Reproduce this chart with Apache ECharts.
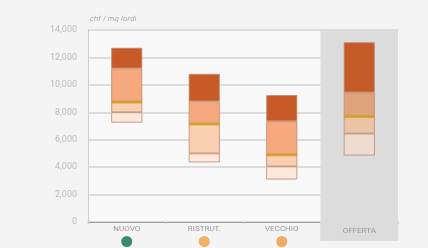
<!DOCTYPE html>
<html>
<head>
<meta charset="utf-8">
<script src="https://cdn.jsdelivr.net/npm/echarts@6/dist/echarts.min.js"></script>
<style>
  html, body { margin: 0; padding: 0; background: #f4f4f4; }
  #chart { width: 428px; height: 248px; }
</style>
</head>
<body>
<div id="chart"></div>
<script>
// categorie e valori (chf / mq lordi)
const categories = ['NUOVO', 'RISTRUT.', 'VECCHIO', 'OFFERTA']
const minVals = [7250, 4350, 3100, 4850]
const q1Vals = [8000, 5000, 4050, 6450]
const medianVals = [8750, 7150, 4900, 7700]
const q3Vals = [11200, 8800, 7350, 9450]
const maxVals = [12700, 10800, 9250, 13100]
const dotColors = ['#3d8a6f', '#efb163', '#efaa68', null]

const chart = echarts.init(document.getElementById('chart'))

// colori dei segmenti, l'ultima barra (OFFERTA) è su fondo grigio
const segColors = [
    ['#fde8db', '#fbcfb2', '#f6a97e', '#c85a28'],
    ['#fde8db', '#fbcfb2', '#f6a97e', '#c85a28'],
    ['#fde8db', '#fbcfb2', '#f6a97e', '#c85a28'],
    ['#efdcd0', '#ebc3a7', '#dfa27c', '#c45a28']
]
const border = '#b98a70'

const seg = (lo, hi, k) => ({
    type: 'bar',
    stack: 'range',
    barWidth: 31,
    silent: true,
    itemStyle: { borderColor: border, borderWidth: 0.8 },
    data: hi.map((v, i) => ({
        value: v - lo[i],
        itemStyle: { color: segColors[i][k] }
    }))
})

const option = {
    animation: false,
    backgroundColor: '#f4f4f4',
    grid: { left: 88, right: 30, top: 30, bottom: 26, show: true, backgroundColor: '#f8f8f8', borderWidth: 0 },
    graphic: [{
        type: 'text',
        left: 90, top: 16,
        style: { text: 'chf / mq lordi', fill: '#a5a5a5', fontSize: 7, fontStyle: 'italic', fontFamily: 'DejaVu Sans' }
    }],
    xAxis: {
        type: 'category',
        data: categories,
        axisLine: { lineStyle: { color: '#9a9a9a', width: 1 } },
        axisTick: { show: true, length: 2, lineStyle: { color: '#ccc' } },
        axisLabel: {
            margin: 0,
            interval: 0,
            formatter: (name, i) => {
                if (i === 3) return '{band|' + name + '}'
                return '{n|' + name + '}\n{d' + i + '|}'
            },
            rich: {
                n: { color: '#999', fontSize: 8, fontFamily: 'Roboto', lineHeight: 14, align: 'center' },
                band: {
                    color: '#999', fontSize: 8, fontFamily: 'Roboto', backgroundColor: '#dcdcdc',
                    width: 78, align: 'center', height: 20, lineHeight: 18
                },
                d0: { backgroundColor: dotColors[0], width: 11, height: 11, borderRadius: 6 },
                d1: { backgroundColor: dotColors[1], width: 11, height: 11, borderRadius: 6 },
                d2: { backgroundColor: dotColors[2], width: 11, height: 11, borderRadius: 6 }
            }
        },
        splitArea: {
            show: true,
            areaStyle: { color: ['rgba(0,0,0,0)', 'rgba(0,0,0,0)', 'rgba(0,0,0,0)', '#dcdcdc'] }
        }
    },
    yAxis: {
        type: 'value',
        min: 0,
        max: 14000,
        interval: 2000,
        axisLine: { show: true, lineStyle: { color: '#ccc' } },
        axisTick: { show: false },
        axisLabel: {
            color: '#bbb', fontSize: 9, fontFamily: 'Roboto', margin: 11,
            formatter: v => v.toLocaleString('en-US')
        },
        splitLine: { lineStyle: { color: '#d4d4d4', width: 1.5 } }
    },
    series: [
        // base invisibile fino al minimo
        {
            type: 'bar', stack: 'range', barWidth: 31, silent: true,
            itemStyle: { color: 'transparent' },
            data: minVals
        },
        seg(minVals, q1Vals, 0),
        seg(q1Vals, medianVals, 1),
        seg(medianVals, q3Vals, 2),
        seg(q3Vals, maxVals, 3),
        // linea mediana gialla
        {
            type: 'scatter',
            symbol: 'rect',
            symbolSize: [31, 3],
            silent: true,
            itemStyle: { color: '#d1a126' },
            data: medianVals.map((v, i) => [categories[i], v])
        }
    ]
}
chart.setOption(option)
</script>
</body>
</html>
